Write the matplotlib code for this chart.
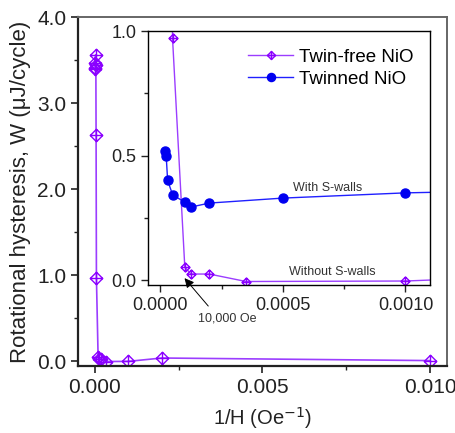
import matplotlib
matplotlib.use("Agg")
import matplotlib.pyplot as plt
from matplotlib.path import Path
from matplotlib.ticker import MultipleLocator, FormatStrFormatter

plt.rcParams["font.family"] = ["Liberation Sans", "DejaVu Sans"]

# Twin-free NiO: 1/H (Oe^-1) and rotational hysteresis W (uJ/cycle)
free_x = [0.0000143, 0.0000167, 0.00002, 0.000025, 0.0000333, 0.00004, 0.00005,
          0.0001, 0.000125, 0.0002, 0.00035, 0.001, 0.002, 0.01]
free_y = [3.39, 3.41, 3.46, 3.56, 3.44, 2.63, 0.97,
          0.052, 0.024, 0.024, -0.006, -0.004, 0.035, 0.005]

# Twinned NiO (inset only)
twin_x = [0.00002, 0.000024, 0.00003, 0.00005, 0.0001, 0.000125, 0.0002, 0.0005, 0.001, 0.002]
twin_y = [0.517, 0.50, 0.40, 0.343, 0.312, 0.293, 0.309, 0.329, 0.35, 0.37]

PURPLE = "#8a00ff"
PURPLE_LINE = "#9b3dff"
BLUE = "#0000f0"
TXT = "#222222"

# diamond with a cross inside
crossed_diamond = Path(
    [(0, 1), (1, 0), (0, -1), (-1, 0), (0, 1),
     (0, 1), (0, -1), (-1, 0), (1, 0)],
    [Path.MOVETO, Path.LINETO, Path.LINETO, Path.LINETO, Path.CLOSEPOLY,
     Path.MOVETO, Path.LINETO, Path.MOVETO, Path.LINETO],
)

fig = plt.figure(figsize=(4.56, 4.33), dpi=100)
ax = fig.add_axes([0.171, 0.1547, 0.809, 0.806])

ax.plot(free_x, free_y, color=PURPLE_LINE, lw=1.2, marker=crossed_diamond,
        ms=9, mfc="none", mec=PURPLE, mew=1.0)
ax.set_xlim(-0.0005, 0.0105)
ax.set_ylim(-0.058, 4.0)
ax.xaxis.set_major_locator(MultipleLocator(0.005))
ax.xaxis.set_minor_locator(MultipleLocator(0.0025))
ax.yaxis.set_major_locator(MultipleLocator(1.0))
ax.yaxis.set_minor_locator(MultipleLocator(0.5))
ax.xaxis.set_major_formatter(FormatStrFormatter("%.3f"))
ax.yaxis.set_major_formatter(FormatStrFormatter("%.1f"))
ax.tick_params(which="both", direction="out", top=False, right=False,
               labelsize=15, colors=TXT)
ax.tick_params(which="major", length=5, width=1.2)
ax.tick_params(which="minor", length=3, width=1.0)
for s in ["left", "bottom"]:
    ax.spines[s].set_linewidth(1.6)
    ax.spines[s].set_color(TXT)
for s in ["top", "right"]:
    ax.spines[s].set_linewidth(1.4)
    ax.spines[s].set_color("#666666")
ax.set_xlabel("1/H (Oe$^{-1}$)", fontsize=14.5, color=TXT, labelpad=6)
ax.set_ylabel("Rotational hysteresis, W (\u03bcJ/cycle)", fontsize=16,
              color=TXT, labelpad=4)

# inset
ins = fig.add_axes([0.3246, 0.3418, 0.6184, 0.5866])
ins.plot(free_x, free_y, color=PURPLE_LINE, lw=1.0, marker=crossed_diamond,
         ms=6.5, mfc="none", mec=PURPLE, mew=1.0, label="Twin-free NiO")
ins.plot(twin_x, twin_y, color="#2020ff", lw=1.0, marker="o", ms=6.5,
         mfc=BLUE, mec=BLUE, label="Twinned NiO")
ins.set_xlim(-0.00005, 0.0011)
ins.set_ylim(-0.02, 1.0)
ins.xaxis.set_major_locator(MultipleLocator(0.0005))
ins.xaxis.set_minor_locator(MultipleLocator(0.00025))
ins.yaxis.set_major_locator(MultipleLocator(0.5))
ins.yaxis.set_minor_locator(MultipleLocator(0.25))
ins.xaxis.set_major_formatter(FormatStrFormatter("%.4f"))
ins.yaxis.set_major_formatter(FormatStrFormatter("%.1f"))
ins.tick_params(which="both", direction="out", top=False, right=False,
                labelsize=13, colors=TXT)
ins.tick_params(which="major", length=5, width=1.0)
ins.tick_params(which="minor", length=3, width=1.0)
for s in ins.spines.values():
    s.set_linewidth(1.0)
    s.set_color("black")

ins.legend(loc="upper left", bbox_to_anchor=(0.355, 0.93), frameon=False,
           borderpad=0, borderaxespad=0,
           fontsize=13.5, handlelength=2.4, handletextpad=0.3, labelspacing=0.25,
           markerscale=0.9)

ins.text(0.00054, 0.37, "With S-walls", fontsize=9, color="#333333", va="center")
ins.text(0.000524, 0.032, "Without S-walls", fontsize=9, color="#333333", va="center")
ins.text(0.000155, -0.153, "10,000 Oe", fontsize=9, color="#333333", va="center",
         clip_on=False)
ins.annotate("", xy=(0.0000915, 0.016), xytext=(0.000203, -0.113),
             arrowprops=dict(arrowstyle="-|>", color="black", lw=0.7,
                             mutation_scale=14),
             annotation_clip=False)

fig.savefig("out.png", dpi=100)
